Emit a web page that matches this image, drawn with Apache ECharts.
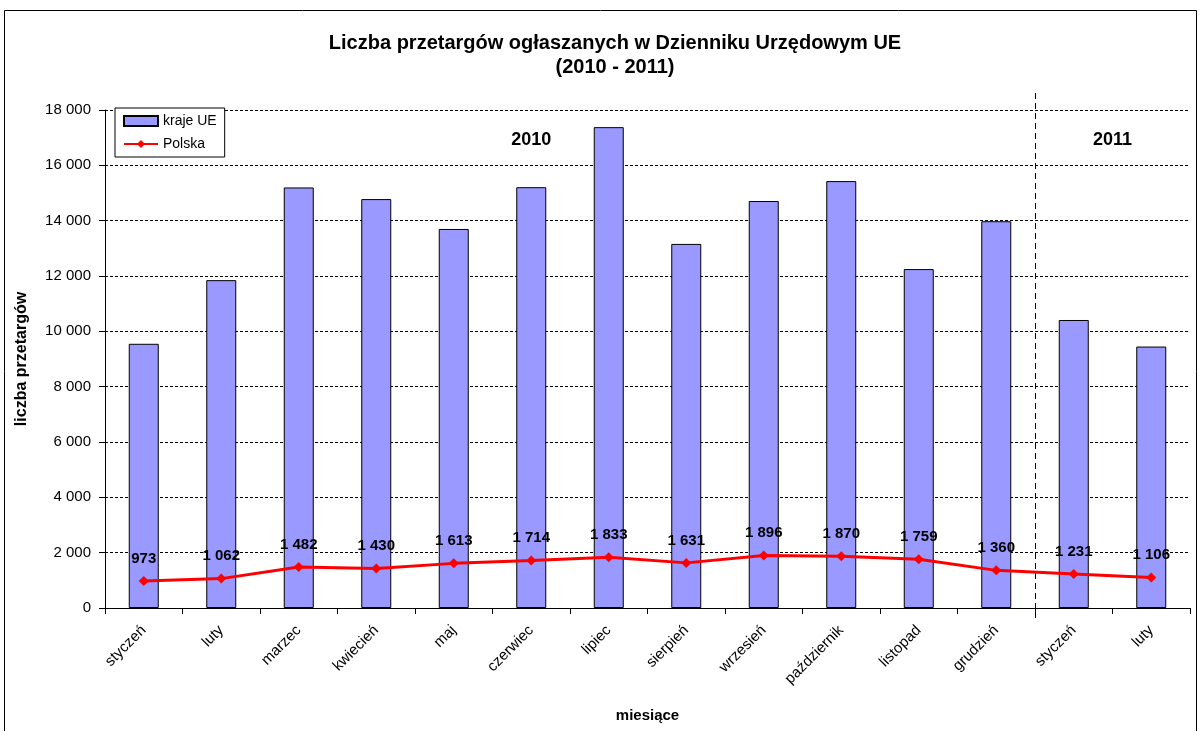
<!DOCTYPE html>
<html><head><meta charset="utf-8">
<script src="https://cdn.jsdelivr.net/npm/echarts@6/dist/echarts.min.js"></script>
<style>html,body{margin:0;padding:0;background:#fff}#c{width:1200px;height:731px}</style>
</head><body><div id="c"></div>
<script>
const categories = ['styczeń','luty','marzec','kwiecień','maj','czerwiec','lipiec','sierpień','wrzesień','październik','listopad','grudzień','styczeń','luty'];
const krajeUE = [9550, 11850, 15200, 14780, 13700, 15210, 17380, 13160, 14710, 15430, 12250, 13980, 10410, 9450];
const polska = [973, 1062, 1482, 1430, 1613, 1714, 1833, 1631, 1896, 1870, 1759, 1360, 1231, 1106];
const yearLabels = [{text:'2010', cat:5}, {text:'2011', cat:12.5}];
const splitAfter = 12;

function fmt(v){ return String(v).replace(/\B(?=(\d{3})+(?!\d))/g,' '); }
const FONT = 'Liberation Sans, Arial, sans-serif';
const chart = echarts.init(document.getElementById('c'));
chart.setOption({
  animation:false,
  textStyle:{fontFamily:FONT},
  title:{text:'Liczba przetargów ogłaszanych w Dzienniku Urzędowym UE\n(2010 - 2011)', left:610, textAlign:'center', top:26,
    textStyle:{fontSize:20, fontWeight:'bold', color:'#000', lineHeight:24, fontFamily:FONT}},
  legend:{orient:'vertical', left:115, top:108, width:108, padding:[6,8,6,8], itemGap:9, itemWidth:34, itemHeight:10,
    borderColor:'#000', borderWidth:1, backgroundColor:'#fff',
    textStyle:{fontSize:14, color:'#000', fontFamily:FONT},
    data:[{name:'kraje UE', icon:'rect'},{name:'Polska'}]},
  grid:{left:105, right:10, top:110, bottom:123},
  xAxis:[{type:'category', data:categories, boundaryGap:true,
    axisLine:{lineStyle:{color:'#000'}}, axisTick:{show:true, length:6, lineStyle:{color:'#000'}},
    axisLabel:{rotate:45, fontSize:15, color:'#000', margin:20, interval:0},
    name:'miesiące', nameLocation:'middle', nameGap:100, nameTextStyle:{fontSize:15, fontWeight:'bold', color:'#000'}},
    {type:'value', min:0, max:categories.length, show:false}],
  yAxis:{type:'value', min:0, max:18000, interval:2000,
    axisLine:{show:true, lineStyle:{color:'#000'}}, axisTick:{show:true, length:6, lineStyle:{color:'#000'}},
    axisLabel:{fontSize:15, color:'#000', margin:14, formatter:fmt},
    splitLine:{lineStyle:{color:'#000', type:[3,2], width:1}},
    name:'liczba przetargów', nameLocation:'middle', nameGap:75, nameTextStyle:{fontSize:16, fontWeight:'bold', color:'#000'}},
  series:[
    {name:'kraje UE', type:'bar', data:krajeUE, barWidth:30, itemStyle:{color:'#9999FF', borderColor:'#000', borderWidth:1}},
    {name:'Polska', type:'line', data:polska, symbol:'diamond', symbolSize:10, z:5,
      lineStyle:{color:'#FF0000', width:3}, itemStyle:{color:'#FF0000'},
      label:{show:true, position:'top', distance:10, fontSize:15, fontWeight:'bold', color:'#000', formatter:p=>fmt(p.value)}}
  ]
});
const xs = chart.convertToPixel({xAxisIndex:1}, splitAfter);
const g = [
  {type:'rect', shape:{x:4.5, y:10.5, width:1192, height:800}, style:{fill:'none', stroke:'#000', lineWidth:1}, silent:true, z:-10},
  {type:'line', shape:{x1:Math.round(xs)+0.5, y1:93, x2:Math.round(xs)+0.5, y2:618}, style:{stroke:'#000', lineWidth:1, lineDash:[6,4]}, z:10}
];
yearLabels.forEach(l=>{
  const px = chart.convertToPixel({xAxisIndex:1}, l.cat + 0.5);
  const py = chart.convertToPixel({yAxisIndex:0}, 16900);
  g.push({type:'text', x:px, y:py, style:{text:l.text, fontSize:18, fontWeight:'bold', fill:'#000', align:'center', verticalAlign:'middle', fontFamily:FONT}, z:10});
});
chart.setOption({graphic:g});
</script></body></html>
